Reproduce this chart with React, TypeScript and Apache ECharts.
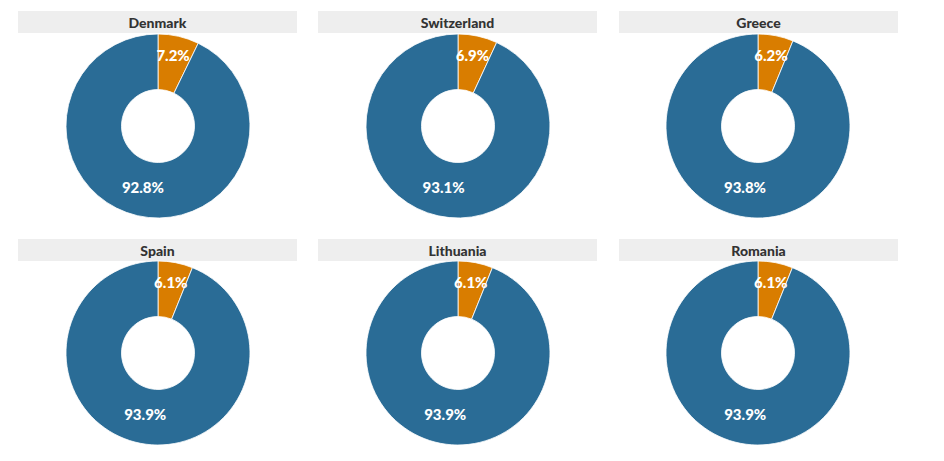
import React, { useEffect, useRef } from "react";
import * as echarts from "echarts";

const countries = ["Denmark", "Switzerland", "Greece", "Spain", "Lithuania", "Romania"];
const orangeShare = [7.2, 6.9, 6.2, 6.1, 6.1, 6.1];
const blueShare = [92.8, 93.1, 93.8, 93.9, 93.9, 93.9];

const ORANGE = "#d97d00";
const BLUE = "#2a6c96";

export default function App() {
  const ref = useRef<HTMLDivElement>(null);
  useEffect(() => {
    document.body.style.margin = "0";
    const chart = echarts.init(ref.current!, null, { renderer: "svg" });
    const colX = [158, 458, 758];
    const rowY = [126, 353];
    const barX = [18, 318, 619];
    const barY = [11, 239];
    const series: any[] = [];
    const graphic: any[] = [];
    countries.forEach((name, i) => {
      const c = i % 3;
      const r = Math.floor(i / 3);
      graphic.push({
        type: "rect",
        shape: { x: barX[c], y: barY[r], width: 279, height: 22 },
        style: { fill: "#eeeeee" },
        silent: true,
      });
      graphic.push({
        type: "text",
        x: barX[c] + 139.5,
        y: barY[r] + 11,
        style: {
          text: name,
          fill: "#333333",
          font: "900 14px Lato",
          align: "center",
          verticalAlign: "middle",
        },
        silent: true,
      });
      series.push({
        type: "pie",
        name,
        center: [colX[c], rowY[r]],
        radius: [36.5, 92],
        startAngle: 90,
        clockwise: true,
        avoidLabelOverlap: false,
        itemStyle: { borderColor: "#ffffff", borderWidth: 0.8 },
        label: {
          show: true,
          position: "inside",
          color: "#ffffff",
          fontFamily: "Lato",
          fontWeight: 900,
          fontSize: 15,
          offset: [0, -5],
          formatter: (p: any) => `${p.value.toFixed(1)}%`,
        },
        labelLine: { show: false },
        emphasis: { disabled: true },
        data: [
          { name: "Orange", value: orangeShare[i], itemStyle: { color: ORANGE } },
          { name: "Blue", value: blueShare[i], itemStyle: { color: BLUE } },
        ],
      });
    });
    chart.setOption({
      animation: false,
      backgroundColor: "#ffffff",
      graphic,
      series,
    });
    return () => chart.dispose();
  }, []);
  return <div ref={ref} style={{ width: 944, height: 461 }} />;
}
